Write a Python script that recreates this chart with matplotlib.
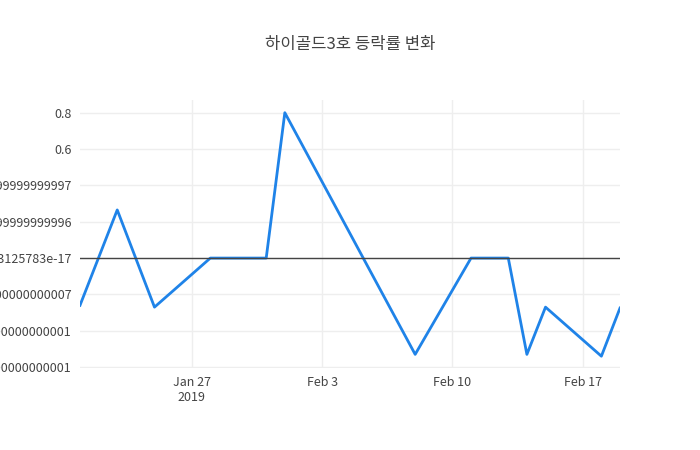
import matplotlib
matplotlib.use("Agg")
import matplotlib.pyplot as plt
import matplotlib.dates as mdates
import pandas as pd

plt.rcParams['font.family'] = ['Noto Sans CJK KR', 'DejaVu Sans']

dates = ["2019-01-21","2019-01-23","2019-01-25","2019-01-28","2019-01-31","2019-02-01",
         "2019-02-08","2019-02-11","2019-02-13","2019-02-14","2019-02-15","2019-02-18","2019-02-19"]
values = [-0.26, 0.265, -0.27, 0.0, 0.0, 0.8, -0.53, 0.0, 0.0, -0.53, -0.27, -0.54, -0.275]
yticks = [-0.6, -0.4, -0.2, 0.0, 0.2, 0.4, 0.6, 0.8]
ytick_labels = ["-0.6000000000000001", "-0.4000000000000001", "-0.20000000000000007",
                "5.551115123125783e-17", "0.19999999999999996", "0.39999999999999997", "0.6", "0.8"]
xtick_dates = ["2019-01-27", "2019-02-03", "2019-02-10", "2019-02-17"]
xtick_labels = ["Jan 27\n2019", "Feb 3", "Feb 10", "Feb 17"]

x = pd.to_datetime(dates)
fig = plt.figure(figsize=(7, 4.5), dpi=100)
ax = fig.add_axes([80/700, 1-368/450, 540/700, 268/450])
ax.plot(x, values, color="#1f83e8", lw=2)
ax.axhline(0, color="#444444", lw=1)
ax.set_xlim(x[0], x[-1])
ax.set_ylim(-0.605, 0.87)
ax.set_yticks(yticks)
ax.set_yticklabels(ytick_labels)
ax.set_xticks(pd.to_datetime(xtick_dates))
ax.set_xticklabels(xtick_labels)
ax.grid(color="#eeeeee", lw=1)
for s in ax.spines.values():
    s.set_visible(False)
ax.tick_params(length=0, labelsize=9, colors="#444444", pad=6)
fig.suptitle("하이골드3호 등락률 변화", x=0.5, y=1-44/450, va="center", fontsize=12, color="#444444")
fig.savefig("out.png")
